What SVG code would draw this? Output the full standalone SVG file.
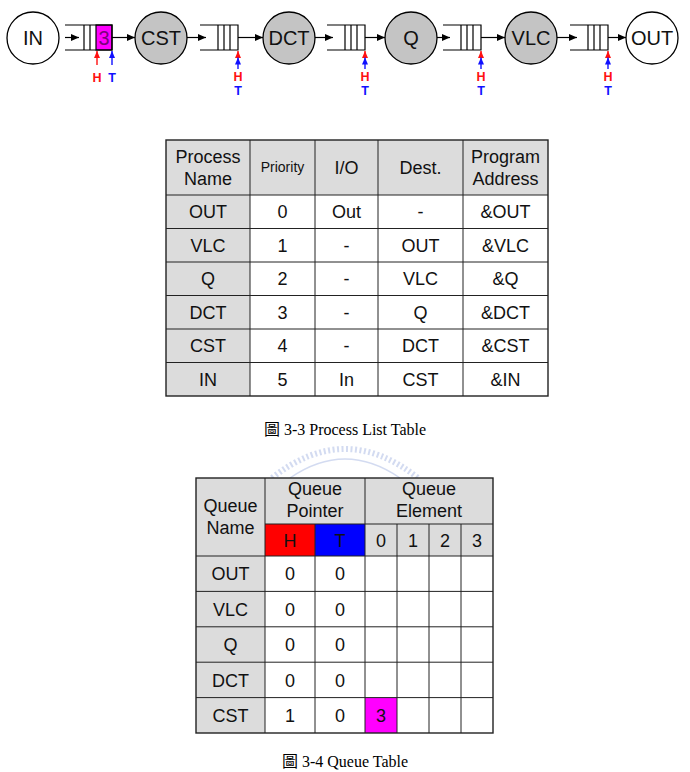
<svg xmlns="http://www.w3.org/2000/svg" width="690" height="772" viewBox="0 0 690 772">
<defs>
<style>
.bg{fill:#ffffff}
.node{stroke:#000;stroke-width:1.3}
.white{fill:#ffffff}
.gray{fill:#c4c4c4}
.lbl{font-family:'Liberation Sans',Arial,sans-serif;font-size:20px;text-anchor:middle;fill:#111}
.q{fill:none;stroke:#000;stroke-width:1.2}
.conn{stroke:#000;stroke-width:1.2;fill:none}
.ptrH{stroke:#ff1010;stroke-width:1.4;fill:none}
.ptrT{stroke:#1010ff;stroke-width:1.4;fill:none}
.tH{font-family:'Liberation Sans',Arial,sans-serif;font-weight:bold;font-size:12.5px;text-anchor:middle;fill:#ff1010}
.tT{font-family:'Liberation Sans',Arial,sans-serif;font-weight:bold;font-size:12.5px;text-anchor:middle;fill:#1010ff}
.cell{stroke:#222;stroke-width:1}
.hd{fill:#dcdcdc}
.wc{fill:#ffffff}
.tx{font-family:'Liberation Sans',Arial,sans-serif;font-size:18px;text-anchor:middle;fill:#111}
.small{font-size:14px}
.cap{font-family:'Liberation Serif','Noto Sans CJK TC',serif;font-size:16px;text-anchor:middle;fill:#000}
</style>
<marker id="ab" markerWidth="8" markerHeight="7" refX="8" refY="3.5" orient="auto" markerUnits="userSpaceOnUse"><path d="M0,0 L8,3.5 L0,7 z" fill="#000"/></marker>
<marker id="ar" markerWidth="7" markerHeight="6" refX="7" refY="3" orient="auto" markerUnits="userSpaceOnUse"><path d="M0,0 L7,3 L0,6 z" fill="#ff1010"/></marker>
<marker id="au" markerWidth="7" markerHeight="6" refX="7" refY="3" orient="auto" markerUnits="userSpaceOnUse"><path d="M0,0 L7,3 L0,6 z" fill="#1010ff"/></marker>
</defs>
<rect class="bg" x="0" y="0" width="690" height="772"/>

<!-- pipeline nodes -->
<g id="node-IN"><circle class="node white" cx="33" cy="38" r="26"/><text class="lbl" x="33" y="45">IN</text></g>
<g id="node-CST"><circle class="node gray" cx="161" cy="38" r="26"/><text class="lbl" x="161" y="45">CST</text></g>
<g id="node-DCT"><circle class="node gray" cx="289" cy="38" r="26"/><text class="lbl" x="289" y="45">DCT</text></g>
<g id="node-Q"><circle class="node gray" cx="411" cy="38" r="26"/><text class="lbl" x="411" y="45">Q</text></g>
<g id="node-VLC"><circle class="node gray" cx="531" cy="38" r="26"/><text class="lbl" x="531" y="45">VLC</text></g>
<g id="node-OUT"><circle class="node white" cx="652" cy="38" r="26"/><text class="lbl" x="652" y="45">OUT</text></g>

<!-- queues -->
<g id="queue-CST">
<rect x="96" y="25" width="16" height="25" fill="#ff00ff" stroke="#000" stroke-width="1.2"/>
<path class="q" d="M65,25 H112 V50 H65 M84,25 V50 M90,25 V50"/>
<text x="104" y="45" font-family="'Liberation Sans',Arial,sans-serif" font-size="20" text-anchor="middle" fill="#7a007a">3</text>
</g>
<g id="queue-DCT"><path class="q" d="M200,25 H238 V50 H200 M218,25 V50 M224,25 V50 M230,25 V50"/></g>
<g id="queue-Q"><path class="q" d="M327,25 H365 V50 H327 M345,25 V50 M351,25 V50 M357,25 V50"/></g>
<g id="queue-VLC"><path class="q" d="M443,25 H481 V50 H443 M461,25 V50 M467,25 V50 M473,25 V50"/></g>
<g id="queue-OUT"><path class="q" d="M570,25 H608 V50 H570 M588,25 V50 M594,25 V50 M600,25 V50"/></g>

<!-- connectors -->
<g id="connectors">
<line class="conn" x1="65" y1="37.5" x2="79" y2="37.5" marker-end="url(#ab)"/>
<line class="conn" x1="112" y1="37.5" x2="135" y2="37.5" marker-end="url(#ab)"/>
<line class="conn" x1="187" y1="37.5" x2="206" y2="37.5" marker-end="url(#ab)"/>
<line class="conn" x1="238" y1="37.5" x2="263" y2="37.5" marker-end="url(#ab)"/>
<line class="conn" x1="315" y1="37.5" x2="333" y2="37.5" marker-end="url(#ab)"/>
<line class="conn" x1="365" y1="37.5" x2="385" y2="37.5" marker-end="url(#ab)"/>
<line class="conn" x1="437" y1="37.5" x2="450" y2="37.5" marker-end="url(#ab)"/>
<line class="conn" x1="481" y1="37.5" x2="505" y2="37.5" marker-end="url(#ab)"/>
<line class="conn" x1="557" y1="37.5" x2="577" y2="37.5" marker-end="url(#ab)"/>
<line class="conn" x1="608" y1="37.5" x2="626" y2="37.5" marker-end="url(#ab)"/>
</g>

<!-- head / tail pointers -->
<g id="pointers">
<line class="ptrH" x1="97" y1="65" x2="97" y2="51" marker-end="url(#ar)"/>
<line class="ptrT" x1="112" y1="65" x2="112" y2="51" marker-end="url(#au)"/>
<text class="tH" x="97" y="82">H</text>
<text class="tT" x="112" y="82">T</text>

<line class="ptrH" x1="238" y1="57" x2="238" y2="51" marker-end="url(#ar)"/>
<line class="ptrT" x1="238" y1="69" x2="238" y2="57.5" marker-end="url(#au)"/>
<text class="tH" x="238" y="81">H</text>
<text class="tT" x="238" y="95">T</text>

<line class="ptrH" x1="365" y1="57" x2="365" y2="51" marker-end="url(#ar)"/>
<line class="ptrT" x1="365" y1="69" x2="365" y2="57.5" marker-end="url(#au)"/>
<text class="tH" x="365" y="81">H</text>
<text class="tT" x="365" y="95">T</text>

<line class="ptrH" x1="481" y1="57" x2="481" y2="51" marker-end="url(#ar)"/>
<line class="ptrT" x1="481" y1="69" x2="481" y2="57.5" marker-end="url(#au)"/>
<text class="tH" x="481" y="81">H</text>
<text class="tT" x="481" y="95">T</text>

<line class="ptrH" x1="608" y1="57" x2="608" y2="51" marker-end="url(#ar)"/>
<line class="ptrT" x1="608" y1="69" x2="608" y2="57.5" marker-end="url(#au)"/>
<text class="tH" x="608" y="81">H</text>
<text class="tT" x="608" y="95">T</text>
</g>

<!-- Process list table -->
<g id="process-table">
<rect class="hd" x="166" y="140" width="382" height="55"/>
<rect class="hd" x="166" y="195" width="84" height="201"/>
<rect class="wc" x="250" y="195" width="298" height="201"/>
<g class="cell" fill="none">
<rect x="166" y="140" width="382" height="256" stroke-width="1.4"/>
<path d="M250,140 V396 M315,140 V396 M378,140 V396 M463,140 V396 M166,195 H548 M166,228.5 H548 M166,262 H548 M166,295.5 H548 M166,329 H548 M166,362.5 H548"/>
</g>
<text class="tx" x="208" y="163">Process</text><text class="tx" x="208" y="185">Name</text>
<text class="tx small" x="282.5" y="172">Priority</text>
<text class="tx" x="346.5" y="174">I/O</text>
<text class="tx" x="420.5" y="174">Dest.</text>
<text class="tx" x="505.5" y="163">Program</text><text class="tx" x="505.5" y="185">Address</text>

<text class="tx" x="208" y="218">OUT</text><text class="tx" x="282.5" y="218">0</text><text class="tx" x="346.5" y="218">Out</text><text class="tx" x="420.5" y="218">-</text><text class="tx" x="505.5" y="218">&amp;OUT</text>
<text class="tx" x="208" y="251.5">VLC</text><text class="tx" x="282.5" y="251.5">1</text><text class="tx" x="346.5" y="251.5">-</text><text class="tx" x="420.5" y="251.5">OUT</text><text class="tx" x="505.5" y="251.5">&amp;VLC</text>
<text class="tx" x="208" y="285">Q</text><text class="tx" x="282.5" y="285">2</text><text class="tx" x="346.5" y="285">-</text><text class="tx" x="420.5" y="285">VLC</text><text class="tx" x="505.5" y="285">&amp;Q</text>
<text class="tx" x="208" y="318.5">DCT</text><text class="tx" x="282.5" y="318.5">3</text><text class="tx" x="346.5" y="318.5">-</text><text class="tx" x="420.5" y="318.5">Q</text><text class="tx" x="505.5" y="318.5">&amp;DCT</text>
<text class="tx" x="208" y="352">CST</text><text class="tx" x="282.5" y="352">4</text><text class="tx" x="346.5" y="352">-</text><text class="tx" x="420.5" y="352">DCT</text><text class="tx" x="505.5" y="352">&amp;CST</text>
<text class="tx" x="208" y="385.5">IN</text><text class="tx" x="282.5" y="385.5">5</text><text class="tx" x="346.5" y="385.5">In</text><text class="tx" x="420.5" y="385.5">CST</text><text class="tx" x="505.5" y="385.5">&amp;IN</text>
</g>

<text class="cap" x="345" y="435">圖 3-3 Process List Table</text>

<!-- faint watermark -->
<g id="watermark" fill="none" stroke="#c9d3ee" opacity="0.8">
<path d="M272,478 Q345,420 418,478" stroke-width="6" stroke-dasharray="2 2.5"/>
<path d="M290,478 Q345,440 400,478" stroke-width="1.5"/>
</g>

<!-- Queue table -->
<g id="queue-table">
<rect class="hd" x="196" y="478" width="297" height="78"/>
<rect class="hd" x="196" y="556" width="69" height="177"/>
<rect class="wc" x="265" y="556" width="228" height="177"/>
<rect x="265" y="524" width="50" height="32" fill="#ff0000"/>
<rect x="315" y="524" width="50" height="32" fill="#0000ff"/>
<rect x="365" y="697.6" width="32" height="35.4" fill="#ff00ff"/>
<g class="cell" fill="none">
<rect x="196" y="478" width="297" height="255" stroke-width="1.4"/>
<path d="M265,478 V733 M365,478 V733 M315,524 V733 M397,524 V733 M429,524 V733 M461,524 V733 M265,524 H493 M196,556 H493 M196,591.4 H493 M196,626.8 H493 M196,662.2 H493 M196,697.6 H493"/>
</g>
<text class="tx" x="230.5" y="511.5">Queue</text><text class="tx" x="230.5" y="533.5">Name</text>
<text class="tx" x="315" y="494.5">Queue</text><text class="tx" x="315" y="516.5">Pointer</text>
<text class="tx" x="429" y="494.5">Queue</text><text class="tx" x="429" y="516.5">Element</text>
<text class="tx" x="290" y="546.5" fill="#7a0000">H</text>
<text class="tx" x="340" y="546.5" fill="#00005a">T</text>
<text class="tx" x="381" y="546.5">0</text><text class="tx" x="413" y="546.5">1</text><text class="tx" x="445" y="546.5">2</text><text class="tx" x="477" y="546.5">3</text>

<text class="tx" x="230.5" y="580">OUT</text><text class="tx" x="290" y="580">0</text><text class="tx" x="340" y="580">0</text>
<text class="tx" x="230.5" y="615.5">VLC</text><text class="tx" x="290" y="615.5">0</text><text class="tx" x="340" y="615.5">0</text>
<text class="tx" x="230.5" y="651">Q</text><text class="tx" x="290" y="651">0</text><text class="tx" x="340" y="651">0</text>
<text class="tx" x="230.5" y="686.5">DCT</text><text class="tx" x="290" y="686.5">0</text><text class="tx" x="340" y="686.5">0</text>
<text class="tx" x="230.5" y="722">CST</text><text class="tx" x="290" y="722">1</text><text class="tx" x="340" y="722">0</text><text class="tx" x="381" y="722" fill="#7a007a">3</text>
</g>

<text class="cap" x="345" y="767">圖 3-4 Queue Table</text>
</svg>
